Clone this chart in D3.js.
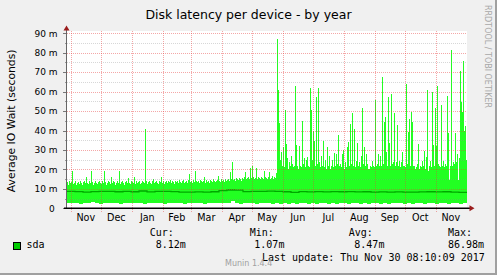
<!DOCTYPE html>
<html>
<head>
<meta charset="utf-8">
<script src="https://cdn.jsdelivr.net/npm/d3@7/dist/d3.min.js"></script>
<style>
  html, body { margin: 0; padding: 0; background: #F0F0F0; }
  svg { display: block; }
  text { font-family: 'DejaVu Sans', sans-serif; }
  .mono { font-family: 'DejaVu Sans Mono', monospace; }
</style>
</head>
<body>
<svg id="chart" width="497" height="275"></svg>
<script>
// first day column of the yearly graph (400 days, one pixel per day)
const startTime = new Date(Date.UTC(2016, 9, 27, 17));
const dayCount = 400;

// daily maximum IO wait, in milliseconds
const maxDaily = [
	13.5, 12, 14, 13, 13.5, 19, 12.5, 13, 14, 12,
	13, 13.5, 12.5, 14, 13, 12, 13.5, 14, 13, 16,
	13, 12.5, 14, 13, 19, 13.5, 12, 13, 14, 13,
	12.5, 13.5, 14, 13, 12.5, 14, 13, 19, 13.5, 12,
	13, 14, 13.5, 12.5, 16, 13, 14, 13.5, 12, 13,
	14, 13, 19, 12.5, 13.5, 14, 13, 12, 13.5, 14,
	13, 15.5, 13, 12.5, 14, 13.5, 13, 16, 12.5, 14,
	13, 13.5, 14, 12.5, 13, 14, 13.5, 13, 41, 14,
	12.5, 13.5, 14, 13, 12.5, 14, 15, 13, 13.5, 14,
	13, 12.5, 14, 13.5, 16, 13, 14, 12.5, 13.5, 14,
	13, 14, 13.5, 14.5, 13, 14, 13.5, 12.5, 14, 13.5,
	14, 13, 14.5, 13.5, 13, 14, 14.5, 13, 13.5, 14,
	13, 14.5, 17.8, 13.5, 14, 13, 14.5, 13.5, 19, 14,
	13.5, 14, 13, 14.5, 14, 13.5, 14, 16, 13, 14.5,
	13.5, 14, 13, 14.5, 14, 13.5, 15, 14, 13.5, 14,
	14.5, 16.5, 14, 13.5, 15, 14, 14.5, 13.5, 15, 14,
	14.5, 15, 14, 18.5, 15, 24, 14.5, 15, 14, 15.5,
	15, 14.5, 15.5, 15, 14, 15.5, 15, 16, 18.5, 15,
	15.5, 16, 15, 20.5, 15.5, 21.6, 16, 15, 15.5, 20.5,
	15, 16, 15.5, 15, 16, 15.5, 15, 19, 16, 15.5,
	15, 16, 18.5, 15, 15.5, 16.5, 15, 16, 15.5,
	18, 87, 61, 44, 25, 29, 22, 31.5, 21, 50.7,
	33, 26, 20, 24, 22, 27, 23, 21, 22, 62.7,
	32.5, 22, 20, 32, 22, 21, 45, 23, 26, 21,
	25, 26.5, 22, 21, 62, 50.7, 25, 39.6, 34.8, 22,
	57, 23, 62, 24, 21, 27, 22, 34.5, 21, 25,
	20, 31.5, 22, 27, 20, 22, 25, 21, 28.5, 22,
	28, 23, 37.6, 22, 23, 21, 28, 30, 20, 24,
	21, 31.5, 34, 22, 43.3, 23, 49, 22, 41, 21,
	24.5, 33.5, 22, 24, 21, 27, 51.6, 23, 31.5, 22,
	28, 23, 20, 20, 22, 21, 24.5, 22, 21, 55.8,
	22, 23, 28, 22, 27, 22, 67.3, 23, 44.6, 47,
	29, 22, 57, 33.5, 22, 59, 23, 24, 49, 22,
	24, 43, 22, 24.5, 21, 24, 29, 22, 22, 21,
	64, 23, 39, 45.8, 22, 49.4, 44.6, 22, 22, 20,
	21, 23, 33, 20, 22, 21, 24.5, 22, 29.5, 20,
	26.5, 61, 19, 22, 24.5, 21, 60, 32.5, 22, 51.6,
	32, 62.7, 23, 22, 21, 53, 22, 24.5, 21, 23,
	22, 57.5, 38.6, 14.5, 22, 81.6, 22, 24, 23, 38.6,
	24, 28, 14.5, 26, 70.5, 54.6, 49.7, 75.6, 40, 42.5, 25
];

// minimum, one value per 4 days (ms)
const min4Day = [
	2.6, 2.5, 2.8, 2.4, 2.6, 2.5, 3.1, 2.5, 2.4, 2.6,
	2.5, 2.7, 2.5, 2.4, 2.6, 2.5, 2.8, 2.5, 2.6, 2.4,
	2.5, 2.6, 2.5, 2.7, 2.4, 2.6, 2.5, 2.5, 2.6, 2.4,
	2.5, 2.7, 2.5, 2.6, 2.4, 2.5, 2.6, 2.5, 2.7, 2.5,
	2.6, 3.6, 2.5, 2.4, 2.6, 2.5, 2.6, 2.4, 2.5, 2.6,
	2.5, 2.3, 2.8, 2.2, 2.6, 2.4, 2.9, 2.3, 2.5, 2.7,
	2.4, 2.6, 2.3, 2.8, 2.5, 2.4, 2.6, 2.3, 2.7, 2.5,
	2.4, 2.6, 2.5, 2.3, 2.7, 2.4, 2.5, 2.6, 2.3, 2.5,
	2.4, 2.6, 2.5, 2.7, 2.4, 2.5, 2.3, 2.6, 2.5, 2.4,
	2.6, 2.5, 2.4, 2.7, 2.5, 2.4, 2.6, 2.5, 2.4, 2.6
];

// average, one value per 8 days (ms)
const avg8Day = [
	8.7, 8.6, 8.3, 8.6, 8.7, 8.7, 8.5, 8.7, 8.5, 8.9,
	8.4, 8.7, 8.7, 8.6, 8.3, 8.3, 8.4, 8.3, 8.5, 9.1,
	9.4, 9.3, 8.6, 8.7, 8.7, 8.8, 8.7, 8.5, 8.2, 8.6,
	8.4, 8.6, 8.4, 8.6, 8.5, 8.6, 8.4, 8.5, 8.3, 8.4,
	8.3, 8.4, 8.3, 8.3, 8.4, 8.5, 8.4, 8.5, 8.3, 8.2
];

const yTickValues = [0, 10, 20, 30, 40, 50, 60, 70, 80, 90];
const yTickLabels = ['0\u00a0', '10 m', '20 m', '30 m', '40 m', '50 m', '60 m', '70 m', '80 m', '90 m'];
const yMinorValues = [5, 15, 25, 35, 45, 55, 65, 75, 85];
const monthLabels = ['Nov', 'Dec', 'Jan', 'Feb', 'Mar', 'Apr', 'May', 'Jun', 'Jul', 'Aug', 'Sep', 'Oct', 'Nov'];

const legendName = 'sda';
const legendHeaders = ['Cur:', 'Min:', 'Avg:', 'Max:'];
const legendValues = ['8.12m', '1.07m', '8.47m', '86.98m'];
const lastUpdate = 'Last update: Thu Nov 30 08:10:09 2017';

const svg = d3.select('#chart');
const plotLeft = 67, plotRight = 467, plotTop = 33.3, plotBottom = 208.3;

const x = d3.scaleUtc()
	.domain([startTime, d3.utcDay.offset(startTime, dayCount)])
	.range([plotLeft, plotRight]);

const y = d3.scaleLinear()
	.domain([0, 90])
	.range([plotBottom, plotTop]);

const crisp = (v) => Math.round(v) + 0.5;

// background + frame
svg.append('rect').attr('width', 497).attr('height', 275).attr('fill', '#F0F0F0');
svg.append('rect').attr('x', 495).attr('y', 0).attr('width', 2).attr('height', 275).attr('fill', '#A0A0A0');
svg.append('rect').attr('x', 0).attr('y', 273).attr('width', 497).attr('height', 2).attr('fill', '#A0A0A0');

svg.append('rect')
	.attr('x', plotLeft)
	.attr('y', 31)
	.attr('width', plotRight - plotLeft)
	.attr('height', 208 - 31)
	.attr('fill', '#FFFFFF');

// series
const series = maxDaily.map((v, i) => ({
	date: d3.utcDay.offset(startTime, i),
	max: v,
	min: min4Day[Math.floor(i / 4)],
	avg: avg8Day[Math.floor(i / 8)]
}));
series.push(Object.assign({}, series[series.length - 1], {date: d3.utcDay.offset(startTime, dayCount)}));

svg.append('path')
	.datum(series)
	.attr('fill', '#22FF22')
	.attr('shape-rendering', 'crispEdges')
	.attr('d', d3.area()
		.curve(d3.curveStepAfter)
		.x((d) => x(d.date))
		.y0((d) => y(d.min))
		.y1((d) => y(d.max)));

svg.append('path')
	.datum(series)
	.attr('fill', 'none')
	.attr('stroke', '#00A800')
	.attr('stroke-width', 1.3)
	.attr('d', d3.line()
		.curve(d3.curveStepAfter)
		.x((d) => x(d.date))
		.y((d) => y(d.avg)));

// grid (drawn over the data, like rrdtool)
const grid = svg.append('g').attr('class', 'grid');

grid.selectAll('.minor-y')
	.data(yMinorValues)
	.enter().append('line')
	.attr('class', 'minor-y')
	.attr('x1', plotLeft).attr('x2', plotRight)
	.attr('y1', (d) => crisp(y(d))).attr('y2', (d) => crisp(y(d)))
	.attr('stroke', 'rgba(140,140,140,0.35)')
	.attr('stroke-dasharray', '1,1');

grid.selectAll('.major-y')
	.data(yTickValues.slice(1))
	.enter().append('line')
	.attr('class', 'major-y')
	.attr('x1', plotLeft).attr('x2', plotRight)
	.attr('y1', (d) => crisp(y(d))).attr('y2', (d) => crisp(y(d)))
	.attr('stroke', 'rgba(230,60,60,0.45)')
	.attr('stroke-dasharray', '1,1');

const monthStarts = d3.utcMonth.range(d3.utcMonth.ceil(startTime), x.domain()[1])
	.filter((m) => x(m) < plotRight - 2);

grid.selectAll('.major-x')
	.data(monthStarts)
	.enter().append('line')
	.attr('class', 'major-x')
	.attr('x1', (d) => crisp(x(d) - 0.5)).attr('x2', (d) => crisp(x(d) - 0.5))
	.attr('y1', 31).attr('y2', 212)
	.attr('stroke', 'rgba(230,60,60,0.45)')
	.attr('stroke-dasharray', '1,1');

// axes
svg.selectAll('.y-tick')
	.data(yTickValues)
	.enter().append('line')
	.attr('class', 'y-tick')
	.attr('x1', 63).attr('x2', 67)
	.attr('y1', (d) => crisp(y(d))).attr('y2', (d) => crisp(y(d)))
	.attr('stroke', '#777');

svg.selectAll('.y-minor-tick')
	.data(yMinorValues)
	.enter().append('line')
	.attr('class', 'y-minor-tick')
	.attr('x1', 65).attr('x2', 67)
	.attr('y1', (d) => crisp(y(d))).attr('y2', (d) => crisp(y(d)))
	.attr('stroke', '#999');

svg.append('line')
	.attr('x1', 66.5).attr('x2', 66.5)
	.attr('y1', 209).attr('y2', 29)
	.attr('stroke', '#666');

svg.append('line')
	.attr('x1', 64).attr('x2', 470)
	.attr('y1', 208.3).attr('y2', 208.3)
	.attr('stroke', '#000')
	.attr('stroke-width', 1.6);

svg.append('path')
	.attr('d', 'M63.5,30.5 L66.5,25.5 L69.5,30.5 Z')
	.attr('fill', '#9A1C1C');

svg.append('path')
	.attr('d', 'M469.5,205.3 L474.5,208.3 L469.5,211.3 Z')
	.attr('fill', '#9A1C1C');

svg.selectAll('.y-label')
	.data(yTickValues)
	.enter().append('text')
	.attr('class', 'y-label')
	.attr('x', 57.5)
	.attr('y', (d) => y(d) + 3.3)
	.attr('text-anchor', 'end')
	.style('font-size', '9px')
	.text((d, i) => yTickLabels[i]);

svg.selectAll('.x-label')
	.data(monthLabels)
	.enter().append('text')
	.attr('class', 'x-label')
	.attr('x', (d, i) => {
		const m = monthStarts[i];
		return (x(m) + x(d3.utcMonth.offset(m, 1))) / 2 - 0.5;
	})
	.attr('y', 221)
	.attr('text-anchor', 'middle')
	.style('font-size', '9.6px')
	.text((d) => d);

// titles
svg.append('text')
	.attr('x', 248.5)
	.attr('y', 18.5)
	.attr('text-anchor', 'middle')
	.style('font-size', '12.5px')
	.text('Disk latency per device - by year');

svg.append('text')
	.attr('transform', 'translate(14.8,' + ((plotTop + plotBottom) / 2) + ') rotate(-90)')
	.attr('text-anchor', 'middle')
	.style('font-size', '10.8px')
	.text('Average IO Wait (seconds)');

svg.append('text')
	.attr('transform', 'translate(484.5,5) rotate(90)')
	.attr('fill', '#A8A8A8')
	.style('font-size', '8px')
	.text('RRDTOOL / TOBI OETIKER');

// legend
svg.append('rect')
	.attr('x', 13.5).attr('y', 242.5)
	.attr('width', 7).attr('height', 7)
	.attr('fill', '#00CC00')
	.attr('stroke', '#000');

svg.append('text')
	.attr('class', 'mono')
	.attr('x', 26.5).attr('y', 248.3)
	.style('font-size', '10px')
	.text(legendName);

const headerX = [149.7, 249.7, 348.7, 448];
const valueX = [155.7, 254.3, 354.3, 448];

svg.selectAll('.legend-head')
	.data(legendHeaders)
	.enter().append('text')
	.attr('class', 'mono legend-head')
	.attr('x', (d, i) => headerX[i]).attr('y', 236)
	.style('font-size', '10px')
	.text((d) => d);

svg.selectAll('.legend-value')
	.data(legendValues)
	.enter().append('text')
	.attr('class', 'mono legend-value')
	.attr('x', (d, i) => valueX[i]).attr('y', 248.3)
	.style('font-size', '10px')
	.text((d) => d);

svg.append('text')
	.attr('class', 'mono')
	.attr('x', 262).attr('y', 260.7)
	.style('font-size', '10px')
	.text(lastUpdate);

svg.append('text')
	.attr('x', 225).attr('y', 265.8)
	.attr('fill', '#A0A0A0')
	.style('font-size', '8px')
	.text('Munin 1.4.4');
</script>
</body>
</html>
